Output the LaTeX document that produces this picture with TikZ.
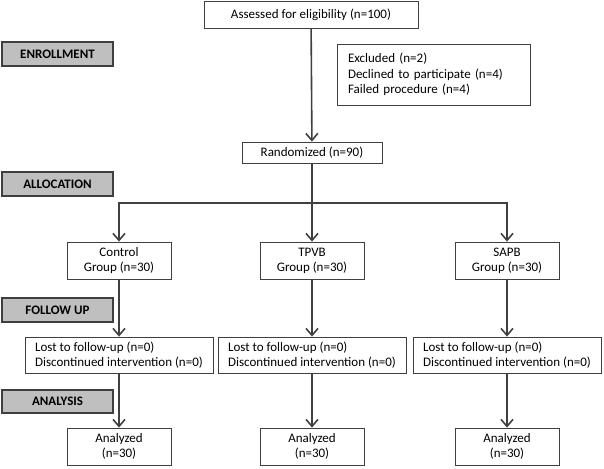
\documentclass[tikz,border=0pt]{standalone}
\usepackage{fontspec}
\setmainfont{Carlito}
\usetikzlibrary{arrows.meta}

\definecolor{boxline}{HTML}{3F3F3F}
\definecolor{arrline}{HTML}{404040}
\definecolor{stagefill}{HTML}{BFBFBF}

\tikzset{
  box/.style={draw=boxline, line width=0.8pt, fill=white, inner sep=0pt, align=center,
    font=\fontsize{13}{15}\selectfont},
  groupbox/.style={box, minimum width=104pt, minimum height=37pt},
  listbox/.style={box, align=left, minimum width=188pt, minimum height=36pt},
  stage/.style={draw=boxline, line width=1.4pt, fill=stagefill, minimum width=111pt,
    minimum height=24pt, inner sep=0pt, font=\fontsize{13}{15}\selectfont\bfseries},
  arr/.style={draw=arrline, line width=1.6pt,
    -{Straight Barb[length=7pt,width=12pt,line width=1.6pt]}},
}

\begin{document}
\begin{tikzpicture}[x=1pt,y=-1pt]
\useasboundingbox (0,0) rectangle (604,468);

% stage labels on the left
\node[stage] (enroll) at (57.5,54) {ENROLLMENT};
\node[stage] (alloc) at (57.5,184) {ALLOCATION};
\node[stage] (follow) at (57.5,310) {FOLLOW UP};
\node[stage, minimum height=23pt] (analysis) at (57.5,401.5) {ANALYSIS};

% enrollment
\node[box, minimum width=214pt, minimum height=27pt] (assess) at (311,14.5) {Assessed for eligibility (n=100)};
\node[box, align=left, text width=171pt, inner xsep=11pt, minimum height=61pt, font=\fontsize{13}{15.5}\selectfont] (excl) at (433.5,74.5)
  {Excluded (n=2)\\Declined to participate (n=4)\\Failed procedure (n=4)};
\node[box, minimum width=140pt, minimum height=21pt] (rand) at (312,152.5) {Randomized (n=90)};
\coordinate (split) at (312,203);

% one column per group
\foreach \x/\name/\grp in {119/ctrl/Control, 312/tpvb/TPVB, 507/sapb/SAPB} {
    \node[groupbox] (\name) at (\x,260.5) {\grp\\Group (n=30)};
    \node[listbox] (\name-lost) at (\x,355) {Lost to follow-up (n=0)\\Discontinued intervention (n=0)};
    \node[groupbox] (\name-done) at (\x,446.5) {Analyzed\\(n=30)};
    \draw[arr] (\name) -- (\name-lost);
    \draw[arr] (\name-lost) -- (\name-done);
}

\draw[arr] (assess) -- (rand);
\draw[arr] (rand) -- (split) -| (ctrl);
\draw[arr] (split) -- (tpvb);
\draw[arr] (split) -| (sapb);
\end{tikzpicture}
\end{document}
